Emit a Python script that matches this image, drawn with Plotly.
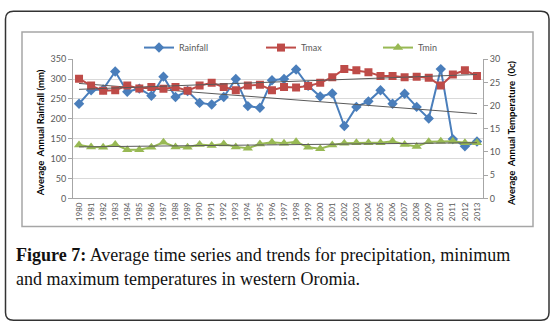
import numpy as np
import plotly.graph_objects as go

W, H = 553, 331

years = list(range(1980, 2014))
rainfall = [238, 272, 274, 319, 268, 276, 258, 306, 255, 270, 240, 236, 255, 300, 232, 228, 297,
            300, 324, 283, 256, 264, 182, 230, 244, 272, 238, 263, 230, 201, 325, 149, 131, 143]
tmax = [25.8, 24.3, 23.2, 23.3, 24.3, 23.7, 24.0, 23.6, 24.0, 23.2, 24.3, 24.9, 24.0, 23.3, 24.3,
        24.5, 23.3, 24.0, 23.9, 24.2, 24.9, 26.1, 27.9, 27.6, 27.2, 26.4, 26.4, 26.1, 26.2, 26.0,
        24.3, 26.7, 27.6, 26.4]
tmin = [11.5, 11.1, 11.0, 11.6, 10.5, 10.5, 11.0, 12.1, 11.1, 11.0, 11.6, 11.4, 11.7, 11.1, 10.8,
        11.7, 12.1, 11.9, 12.2, 11.0, 10.7, 11.5, 11.9, 12.0, 12.0, 12.0, 12.3, 11.6, 11.2, 12.2,
        12.3, 12.3, 12.0, 12.0]
# linear trend lines (start 1980, end 2013)
trend_years = [1980, 2013]
rain_trend = [289, 213]
tmax_trend = [23.5, 26.7]
tmin_trend = [11.1, 12.0]
left_ticks = [0, 50, 100, 150, 200, 250, 300, 350]
right_ticks = [0, 5, 10, 15, 20, 25, 30]

def px_x(v):
    return v / W

def px_y(v):
    return 1 - v / H

BLUE = "#4A7EBB"
RED = "#BE4B48"
GREEN = "#98B954"
TREND = "#5A5A5A"
TXT = "#595959"
FONT = "Lato"

fig = go.Figure()
fig.add_trace(go.Scatter(x=years, y=rainfall, name="Rainfall", mode="lines+markers",
                         legend="legend",
                         line=dict(color=BLUE, width=2),
                         marker=dict(symbol="diamond", size=8, color=BLUE)))
fig.add_trace(go.Scatter(x=years, y=tmax, name="Tmax", mode="lines+markers", yaxis="y2",
                         legend="legend2",
                         line=dict(color=RED, width=2),
                         marker=dict(symbol="square", size=8, color=RED)))
fig.add_trace(go.Scatter(x=years, y=tmin, name="Tmin", mode="lines+markers", yaxis="y2",
                         legend="legend3",
                         line=dict(color=GREEN, width=2),
                         marker=dict(symbol="triangle-up", size=9, color=GREEN)))
fig.add_trace(go.Scatter(x=trend_years, y=rain_trend, mode="lines", showlegend=False,
                         line=dict(color=TREND, width=1), hoverinfo="skip"))
fig.add_trace(go.Scatter(x=trend_years, y=tmax_trend, mode="lines", yaxis="y2", showlegend=False,
                         line=dict(color=TREND, width=1), hoverinfo="skip"))
fig.add_trace(go.Scatter(x=trend_years, y=tmin_trend, mode="lines", yaxis="y2", showlegend=False,
                         line=dict(color=TREND, width=1), hoverinfo="skip"))

x0, x1 = 73, 483
y_top, y_bot = 55, 199

def leg(xp):
    return dict(orientation="h", x=px_x(xp), y=px_y(43), xanchor="left", yanchor="middle",
                font=dict(family=FONT, size=9, color=TXT),
                bgcolor="rgba(0,0,0,0)", itemwidth=30)

fig.update_layout(
    width=W, height=H,
    margin=dict(l=0, r=0, t=0, b=0),
    paper_bgcolor="white", plot_bgcolor="white",
    font=dict(family=FONT, size=9, color=TXT),
    showlegend=True,
    legend=leg(139),
    legend2=leg(261),
    legend3=leg(378),
    xaxis=dict(domain=[px_x(x0), px_x(x1)], range=[1979.5, 2013.5],
               tickvals=years, ticktext=[str(y) for y in years], tickangle=-90,
               tickfont=dict(family=FONT, size=8, color=TXT),
               showgrid=False, showline=True, linecolor="#A6A6A6", linewidth=1,
               ticks="", zeroline=False),
    yaxis=dict(domain=[px_y(y_bot), px_y(y_top)], range=[0, 350], tickvals=left_ticks,
               showgrid=True, gridcolor="#D9D9D9", gridwidth=1,
               showline=True, linecolor="#A6A6A6", linewidth=1,
               ticks="outside", ticklen=4, tickcolor="#A6A6A6",
               tickfont=dict(family=FONT, size=9, color=TXT), zeroline=False),
    yaxis2=dict(overlaying="y", side="right", anchor="x", range=[0, 30], tickvals=right_ticks,
                showgrid=False, showline=True, linecolor="#A6A6A6", linewidth=1,
                ticks="outside", ticklen=4, tickcolor="#A6A6A6",
                tickfont=dict(family=FONT, size=9, color=TXT), zeroline=False),
)

# axis titles
fig.add_annotation(x=px_x(33), y=px_y(131), xref="paper", yref="paper",
                   text="<b>Average  Annual Rainfall (mm)</b>", textangle=-90, showarrow=False,
                   font=dict(family=FONT, size=9.5, color="#000000"))
fig.add_annotation(x=px_x(519), y=px_y(132), xref="paper", yref="paper",
                   text="<b>Average  Annual Temperature  (0c)</b>", textangle=-90, showarrow=False,
                   font=dict(family=FONT, size=9.5, color="#000000"))

# caption
SERIF = "Liberation Serif"
fig.add_annotation(x=px_x(14), y=px_y(258), xref="paper", yref="paper", xanchor="left",
                   yanchor="middle", showarrow=False, align="left",
                   text="<b>Figure 7:</b> Average time series and trends for precipitation, minimum",
                   font=dict(family=SERIF, size=18, color="#111111"))
fig.add_annotation(x=px_x(14), y=px_y(282), xref="paper", yref="paper", xanchor="left",
                   yanchor="middle", showarrow=False, align="left",
                   text="and maximum temperatures in western Oromia.",
                   font=dict(family=SERIF, size=18, color="#111111"))

# chart area border
fig.add_shape(type="rect", xref="paper", yref="paper",
              x0=px_x(22), x1=px_x(533), y0=px_y(228), y1=px_y(27),
              line=dict(color="#A6A6A6", width=1.5), layer="below")

# outer rounded frame
def rounded(xa, ya, xb, yb, r):
    def P(px, py):
        return f"{px_x(px):.5f},{px_y(py):.5f}"
    return (f"M {P(xa + r, ya)} L {P(xb - r, ya)} Q {P(xb, ya)} {P(xb, ya + r)} "
            f"L {P(xb, yb - r)} Q {P(xb, yb)} {P(xb - r, yb)} L {P(xa + r, yb)} "
            f"Q {P(xa, yb)} {P(xa, yb - r)} L {P(xa, ya + r)} Q {P(xa, ya)} {P(xa + r, ya)} Z")

fig.add_shape(type="path", xref="paper", yref="paper", path=rounded(5.5, 5.5, 549, 325, 8),
              line=dict(color="#333333", width=1.5))

fig.write_html("out.html")
